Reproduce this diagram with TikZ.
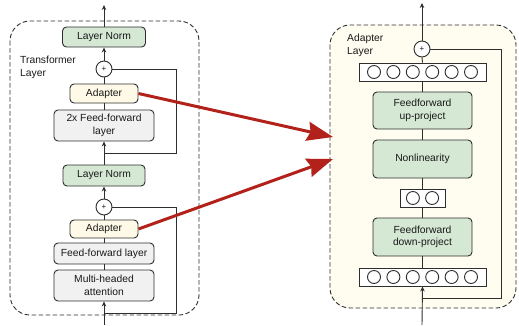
\documentclass[tikz,border=0pt]{standalone}
\usepackage{fontspec}
\setmainfont{Liberation Sans}
\usetikzlibrary{arrows.meta,calc}
\definecolor{linecol}{HTML}{2E2E2E}
\definecolor{greenfill}{HTML}{D5E8D4}
\definecolor{grayfill}{HTML}{F1F1F1}
\definecolor{adfill}{HTML}{FFFAE8}
\definecolor{creamfill}{HTML}{FFFDF0}
\definecolor{redarrow}{HTML}{B2221A}
\begin{document}
\begin{tikzpicture}[x=1pt,y=-1pt,
  every node/.style={text=black!90},
  box/.style={draw=linecol, line width=0.9pt, rounded corners=4pt, align=center, inner sep=0pt,
    font=\fontsize{10.3}{12.5}\selectfont},
  greenbox/.style={box, fill=greenfill},
  graybox/.style={box, fill=grayfill},
  adbox/.style={box, fill=adfill},
  rowbox/.style={draw=linecol, line width=0.9pt, fill=white, inner sep=0pt, minimum height=18pt},
  plusnode/.style={circle, draw=linecol, line width=0.9pt, fill=white, minimum size=16pt, inner sep=0pt,
    font=\fontsize{8}{8}\selectfont},
  conn/.style={draw=linecol, line width=0.9pt},
  arr/.style={conn, -{Stealth[length=5pt,width=4.5pt]}},
  region/.style={draw=linecol, line width=0.9pt, dashed, dash pattern=on 4.5pt off 2.5pt, rounded corners=20pt},
  bigarrow/.style={draw=redarrow, line width=3pt, -{Stealth[length=26pt,width=19pt,inset=3pt]}},
  lbl/.style={font=\fontsize{10.3}{12.5}\selectfont, align=left, inner sep=0pt}
]
\useasboundingbox (0,0) rectangle (519,325);

% regions
\draw[region] (10,21) rectangle (199,315);
\draw[region, fill=creamfill] (330,25) rectangle (516,308);

% ---------- left: transformer layer ----------
\node[lbl, anchor=north west] (tlabel) at (20,56) {Transformer\\Layer};

\node[greenbox, minimum width=83pt, minimum height=20pt] (ln1) at (104,37) {Layer Norm};
\node[plusnode] (plus1) at (104,69) {+};
\node[adbox, minimum width=68pt, minimum height=19pt] (ad1) at (104,93.5) {Adapter};
\node[graybox, minimum width=100pt, minimum height=31pt] (ff2) at (104,125.5) {2x Feed-forward\\layer};
\node[greenbox, minimum width=82pt, minimum height=21pt] (ln2) at (104,175.5) {Layer Norm};
\node[plusnode] (plus2) at (104,207) {+};
\node[adbox, minimum width=68pt, minimum height=18pt] (ad2) at (104,229) {Adapter};
\node[graybox, minimum width=100pt, minimum height=21pt] (ff) at (104,253.5) {Feed-forward layer};
\node[graybox, minimum width=100pt, minimum height=31pt] (mha) at (104,285.5) {Multi-headed\\attention};

\coordinate (outL) at (104,5);
\coordinate (r1) at (104,153);
\coordinate (c1) at (176,153);
\coordinate (inL) at (104,325);
\coordinate (r2) at (104,313);
\coordinate (c2) at (176,313);

\draw[arr] (ln1.north) -- (outL);
\draw[arr] (plus1.north) -- (ln1.south);
\draw[conn] (ad1.north) -- (plus1.south);
\draw[conn] (ff2.north) -- (ad1.south);
\draw[arr] (ln2.north) -- (ff2.south);
\draw[conn] (r1) -- (c1) |- (plus1.east);
\draw[arr] (plus2.north) -- (ln2.south);
\draw[conn] (ad2.north) -- (plus2.south);
\draw[conn] (ff.north) -- (ad2.south);
\draw[conn] (mha.north) -- (ff.south);
\draw[arr] (inL) -- (mha.south);
\draw[conn] (r2) -- (c2) |- (plus2.east);

% ---------- right: adapter layer ----------
\node[lbl, anchor=north west] (alabel) at (347,34) {Adapter\\Layer};

\node[plusnode] (plusR) at (422,49) {+};
\node[rowbox, minimum width=127pt] (rowT) at (422.5,72) {};
\node[greenbox, minimum width=99pt, minimum height=37pt] (up) at (422.5,110.5) {Feedforward\\up-project};
\node[greenbox, minimum width=99pt, minimum height=38pt] (nonlin) at (422.5,159) {Nonlinearity};
\node[rowbox, minimum width=45pt] (rowS) at (422.5,198) {};
\node[greenbox, minimum width=99pt, minimum height=38pt] (down) at (422.5,237) {Feedforward\\down-project};
\node[rowbox, minimum width=127pt] (rowB) at (422.5,277) {};

\foreach \dx in {-48.5,-29.1,-9.7,9.7,29.1,48.5} {
  \draw[linecol, line width=0.9pt] ($(rowT.center)+(\dx,0)$) circle (6.5pt);
  \draw[linecol, line width=0.9pt] ($(rowB.center)+(\dx,0)$) circle (6.5pt);
}
\foreach \dx in {-9.6,9.6} {
  \draw[linecol, line width=0.9pt] ($(rowS.center)+(\dx,0)$) circle (6.5pt);
}

\coordinate (outR) at (422,3);
\coordinate (inR) at (422,325);
\coordinate (rR) at (422,298);
\coordinate (cR) at (501,298);

\draw[arr] (plusR.north) -- (outR);
\draw[conn] (rowT.north) -- (plusR.south);
\draw[conn] (up.north) -- (rowT.south);
\draw[conn] (nonlin.north) -- (up.south);
\draw[conn] (rowS.north) -- (nonlin.south);
\draw[conn] (down.north) -- (rowS.south);
\draw[conn] (rowB.north) -- (down.south);
\draw[arr] (inR) -- (rowB.south);
\draw[conn] (rR) -- (cR) |- (plusR.east);

% ---------- red arrows ----------
\coordinate (tipA) at (333,137);
\coordinate (tipB) at (333,159);
\draw[bigarrow] (ad1.east) -- (tipA);
\draw[bigarrow] (ad2.east) -- (tipB);
\end{tikzpicture}
\end{document}
